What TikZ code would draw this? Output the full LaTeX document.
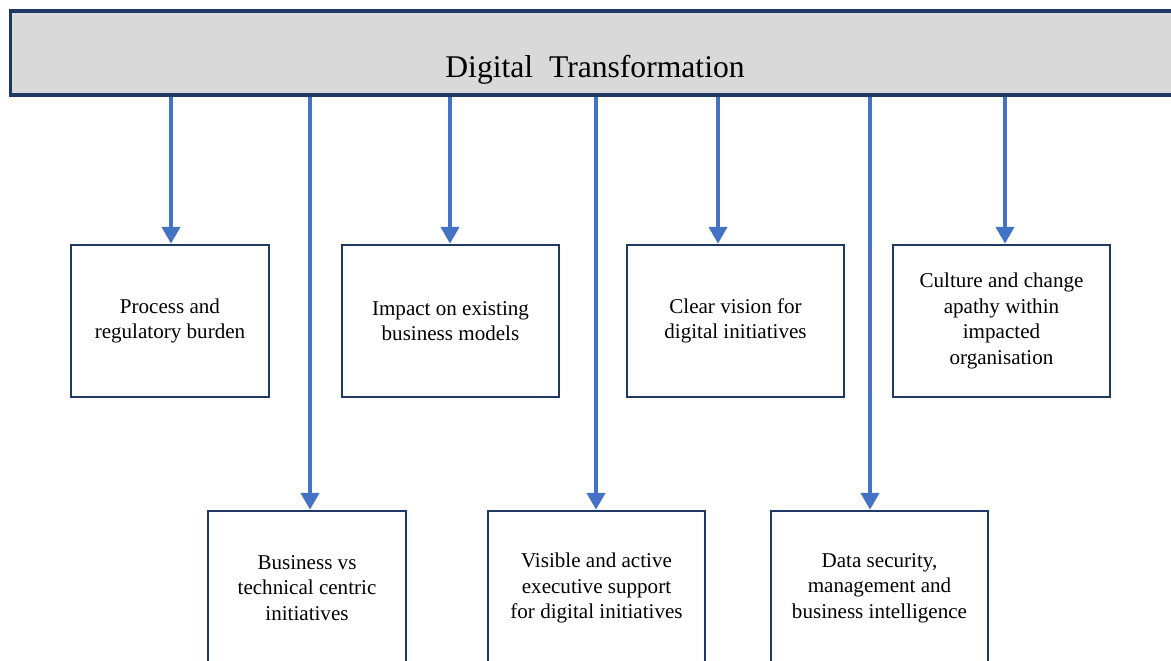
\documentclass[tikz,border=0pt]{standalone}
\usepackage{fontspec}
\setmainfont{Liberation Serif}
\usetikzlibrary{positioning}
\usetikzlibrary{arrows.meta}
\definecolor{arrowblue}{HTML}{4472C4}
\definecolor{boxline}{HTML}{1F3864}
\definecolor{bannergray}{HTML}{D9D9D9}
\tikzset{
	x=0.02cm, y=-0.02cm,
	every node/.style={align=center,font=\fontsize{12}{14.5}\selectfont},
	state/.style={rectangle, draw=boxline, line width=1.4pt, minimum width=4.34cm, minimum height=3.04cm},
	narrow/.style={minimum width=3.96cm},
	lower/.style={minimum height=3.08cm},
	banner/.style={rectangle, draw=boxline, line width=1.8pt, fill=bannergray, minimum width=23.4cm, minimum height=1.68cm},
	down/.style={arrowblue, line width=2.8pt, -{Triangle[width=0.36cm,length=0.34cm]}}
}

\begin{document}
\begin{tikzpicture}
	\clip (0,0) rectangle (1171,660);
	% Title
	\node[banner] (dt) at (595,53) {};
	\node[font=\fontsize{18}{22}\selectfont] (title) at (595,70) {Digital\ \ Transformation};

	\node[state, narrow] (b1) at (170,321) {Process and\\regulatory burden};
	\node[state] (b2) at (450.5,321) {Impact on existing\\business models};
	\node[state] (b3) at (735.5,321) {Clear vision for\\digital initiatives};
	\node[state] (b4) at (1001.5,321) {Culture and change\\apathy within\\impacted\\organisation};

	\node[state, narrow, lower] (b5) at (307,588) {Business vs\\technical centric\\initiatives};
	\node[state, lower] (b6) at (596.5,588) {Visible and active\\executive support\\for digital initiatives};
	\node[state, lower] (b7) at (879.5,588) {Data security,\\management and\\business intelligence};

	\foreach \b/\dx in {b1/1, b5/3, b2/-0.5, b6/-0.5, b3/-17.5, b7/-9.5, b4/3.5}
		\draw[down] ([xshift=\dx*0.02cm]\b.north |- dt.south) -- ([xshift=\dx*0.02cm]\b.north);
\end{tikzpicture}
\end{document}
